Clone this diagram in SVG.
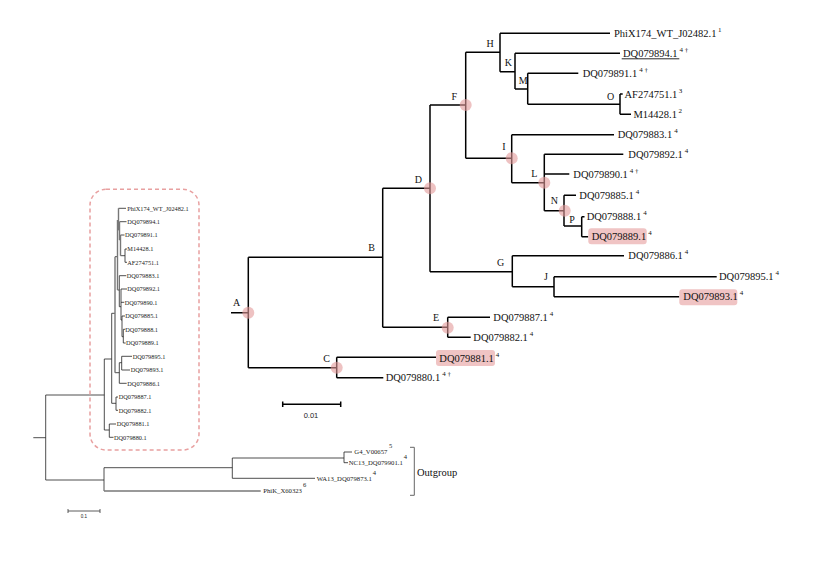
<svg xmlns="http://www.w3.org/2000/svg" width="830" height="575" viewBox="0 0 830 575">
<style>
.b{stroke:#000;stroke-width:1.5;fill:none}
.ib{stroke:#222;stroke-width:0.8;fill:none}
.ig{stroke:#777;stroke-width:1.4;fill:none}
.t{font-family:"Liberation Serif",serif;font-size:10.5px;fill:#111}
.n{font-family:"Liberation Serif",serif;font-size:10px;fill:#111;text-anchor:middle}
.s{font-size:7px}
.it{font-family:"Liberation Serif",serif;font-size:6.3px;fill:#222}
.ot{font-family:"Liberation Serif",serif;font-size:6.7px;fill:#222}
.os{font-size:6.5px}
.c{fill:#e39a9a;fill-opacity:0.6}
.hl{fill:#f0c4c4}
.sans{font-family:"Liberation Sans",sans-serif;fill:#222}
</style>
<rect width="830" height="575" fill="#fff"/>

<!-- Connectors -->
<g id="connectors">
  <path class="b" d="M231,312.7H248.3M248.3,257.3V367.7M248.3,257.3H382.7M248.3,367.7H336.7
  M382.7,188.3V327.3M382.7,188.3H430M382.7,327.3H447.7
  M430,105V271.7M430,105H465.7M430,271.7H512.3
  M465.7,52.3V158.3M465.7,52.3H500M465.7,158.3H511.7
  M500,33.3V71.7M500,33.3H610M500,71.7H515
  M515,53.3V89M515,53.3H620M515,89H527.7
  M527.7,73.3V104.3M527.7,73.3H578.3M527.7,104.3H620
  M620,94V114.3M620,94H622.7M620,114.3H631
  M511.7,134.7V182.7M511.7,134.7H614M511.7,182.7H544.3
  M544.3,154.3V210.7M544.3,154.3H623.3M544.3,174H569.3M544.3,210.7H564
  M564,195.3V226M564,195.3H576M564,226H581.7
  M581.7,216.7V236.7M581.7,216.7H584.5M581.7,236.7H588.3
  M512.3,255.7V286.7M512.3,255.7H624M512.3,286.7H554
  M554,276.7V296.7M554,276.7H716.7M554,296.7H679.3
  M447.7,317.3V337.3M447.7,317.3H490M447.7,337.3H470.7
  M336.7,357.3V377.7M336.7,357.3H436M336.7,377.7H383.3"/>
  <!-- inset tree -->
  <path class="ib" d="M33.3,437.7H45.7M45.7,395V480M45.7,395H104.3M104.3,359V430
  M104.3,430H109.3M109.3,424V437.3M109.3,424H116M109.3,437.3H113.5
  M104.3,359H111.7M111.7,313.3V403.3
  M111.7,403.3H116M116,397V410.3M116,397H118M116,410.3H118
  M111.7,313.3H115
  M115,372.7H119.3M119.3,362.7V383.3M119.3,383.3H126.7
  M119.3,362.7H121.7M121.7,356.3V370M121.7,356.3H132M121.7,370H130
  M115,256.7H117.5
  M118.5,208.3H126M119.5,221.7H126.5M120.5,235H124.5
  M120.5,255.7H125M125,249V262.3M125,249H127M125,262.3H127
  M117.5,290H119.3M119.3,275.7V306.7M119.3,275.7H126.3
  M119.3,306.7H121M121,289V320M121,289H127M121,302.3H124.3
  M121,320H122M122,316V336.7M122,316H125
  M122,336.7H123.3M123.3,329.3V343M123.3,329.3H125.3M123.3,343H125.7
  M45.7,480H104M104,467.7V491M104,467.7H232.3
  M232.3,458V478.3M232.3,458H344M344,452V462.7M344,452H352M344,462.7H348
  M232.3,478.3H315"/>
  <path class="ig" d="M115,256.7V372.7M117.5,220V290M118.5,208.3V230M118.5,230H119.5M119.5,221.7V240M119.5,240H120.5M120.5,235V255.7"/>
  <path class="ig" d="M104,491H260.7"/>
  <!-- outgroup bracket -->
  <path d="M410,447.3H414.3V495.3H410" fill="none" stroke="#666" stroke-width="1"/>
  <!-- scale bars -->
  <path class="b" stroke-width="1.3" d="M282.7,404.3H340.7M282.7,401.5V407M340.7,401.5V407"/>
  <path d="M68,511H100M68,509V513M100,509V513" stroke="#333" stroke-width="0.8" fill="none"/>
</g>

<!-- inset box -->
<rect id="inset-box" x="90" y="189.3" width="109" height="260.7" rx="16" fill="none" stroke="#e8a0a0" stroke-width="1.5" stroke-dasharray="4 3"/>

<!-- internal nodes -->
<g id="node-A"><circle class="c" cx="248.3" cy="312.7" r="6"/><text class="n" x="236.7" y="306">A</text></g>
<g id="node-B"><text class="n" x="371.7" y="251">B</text></g>
<g id="node-C"><circle class="c" cx="336.7" cy="367.7" r="6"/><text class="n" x="326.7" y="361.8">C</text></g>
<g id="node-D"><circle class="c" cx="430" cy="188.3" r="6"/><text class="n" x="418.3" y="182.8">D</text></g>
<g id="node-E"><circle class="c" cx="447.7" cy="327.7" r="6"/><text class="n" x="436" y="320.8">E</text></g>
<g id="node-F"><circle class="c" cx="465.7" cy="105" r="6"/><text class="n" x="454.3" y="99.5">F</text></g>
<g id="node-G"><text class="n" x="500.7" y="265.8">G</text></g>
<g id="node-H"><text class="n" x="490" y="46.8">H</text></g>
<g id="node-I"><circle class="c" cx="511.7" cy="158.3" r="6"/><text class="n" x="504" y="150.2">I</text></g>
<g id="node-J"><text class="n" x="546" y="280.2">J</text></g>
<g id="node-K"><text class="n" x="508.3" y="66.2">K</text></g>
<g id="node-L"><circle class="c" cx="544.3" cy="182.7" r="6"/><text class="n" x="534.3" y="176.8">L</text></g>
<g id="node-M"><text class="n" x="523.3" y="83.5">M</text></g>
<g id="node-N"><circle class="c" cx="564.7" cy="210.7" r="6"/><text class="n" x="554.3" y="204.2">N</text></g>
<g id="node-O"><text class="n" x="610.7" y="100.2">O</text></g>
<g id="node-P"><text class="n" x="572" y="222.5">P</text></g>

<!-- leaves -->
<g id="leaf-PhiX174"><text class="t" x="614" y="36.8">PhiX174_WT_J02482.1<tspan class="s" dx="1.5" dy="-5">1</tspan></text></g>
<g id="leaf-DQ079894"><text class="t" x="623" y="56.8">DQ079894.1<tspan class="s" dx="2" dy="-5">4 †</tspan></text><line x1="621.7" y1="58.8" x2="679.3" y2="58.8" stroke="#111" stroke-width="0.9"/></g>
<g id="leaf-DQ079891"><text class="t" x="582.7" y="76.8">DQ079891.1<tspan class="s" dx="2" dy="-5">4 †</tspan></text></g>
<g id="leaf-AF274751"><text class="t" x="624.5" y="97.5">AF274751.1<tspan class="s" dx="1.5" dy="-5">3</tspan></text></g>
<g id="leaf-M14428"><text class="t" x="633.5" y="117.8">M14428.1<tspan class="s" dx="1.5" dy="-5">2</tspan></text></g>
<g id="leaf-DQ079883"><text class="t" x="617.7" y="138.2">DQ079883.1<tspan class="s" dx="2" dy="-5">4</tspan></text></g>
<g id="leaf-DQ079892"><text class="t" x="628.3" y="157.8">DQ079892.1<tspan class="s" dx="2" dy="-5">4</tspan></text></g>
<g id="leaf-DQ079890"><text class="t" x="573.3" y="177.5">DQ079890.1<tspan class="s" dx="2" dy="-5">4 †</tspan></text></g>
<g id="leaf-DQ079885"><text class="t" x="579.3" y="198.8">DQ079885.1<tspan class="s" dx="2" dy="-5">4</tspan></text></g>
<g id="leaf-DQ079888"><text class="t" x="586.7" y="220.2">DQ079888.1<tspan class="s" dx="2" dy="-5">4</tspan></text></g>
<g id="leaf-DQ079889"><rect class="hl" x="588.3" y="228.3" width="58.4" height="16" rx="3"/><text class="t" x="591.7" y="240.2">DQ079889.1<tspan class="s" dx="2" dy="-5">4</tspan></text></g>
<g id="leaf-DQ079886"><text class="t" x="628.3" y="259.2">DQ079886.1<tspan class="s" dx="2" dy="-5">4</tspan></text></g>
<g id="leaf-DQ079895"><text class="t" x="719" y="280.2">DQ079895.1<tspan class="s" dx="2" dy="-5">4</tspan></text></g>
<g id="leaf-DQ079893"><rect class="hl" x="679.3" y="289.3" width="58" height="16" rx="3"/><text class="t" x="683.3" y="300.2">DQ079893.1<tspan class="s" dx="2" dy="-5">4</tspan></text></g>
<g id="leaf-DQ079887"><text class="t" x="493.3" y="320.8">DQ079887.1<tspan class="s" dx="2" dy="-5">4</tspan></text></g>
<g id="leaf-DQ079882"><text class="t" x="473.3" y="340.8">DQ079882.1<tspan class="s" dx="2" dy="-5">4</tspan></text></g>
<g id="leaf-DQ079881"><rect class="hl" x="436" y="350" width="59" height="16" rx="3"/><text class="t" x="439.3" y="361.5">DQ079881.1<tspan class="s" dx="2" dy="-5">4</tspan></text></g>
<g id="leaf-DQ079880"><text class="t" x="385.7" y="381.2">DQ079880.1<tspan class="s" dx="2" dy="-5">4 †</tspan></text></g>

<g id="scale-main"><text class="sans" x="311" y="417.5" font-size="7.5" text-anchor="middle">0.01</text></g>

<!-- inset labels -->
<g id="inset-labels">
<text class="it" x="127.3" y="210.5">PhiX174_WT_J02482.1</text>
<text class="it" x="127.3" y="223.9">DQ079894.1</text>
<text class="it" x="125" y="237.2">DQ079891.1</text>
<text class="it" x="127.3" y="251.2">M14428.1</text>
<text class="it" x="127.3" y="264.5">AF274751.1</text>
<text class="it" x="126.7" y="277.9">DQ079883.1</text>
<text class="it" x="127.3" y="291.2">DQ079892.1</text>
<text class="it" x="124.7" y="304.5">DQ079890.1</text>
<text class="it" x="125.3" y="318.2">DQ079885.1</text>
<text class="it" x="125.3" y="331.5">DQ079888.1</text>
<text class="it" x="126" y="345.2">DQ079889.1</text>
<text class="it" x="132.7" y="358.5">DQ079895.1</text>
<text class="it" x="130.7" y="372.2">DQ079893.1</text>
<text class="it" x="127.3" y="385.5">DQ079886.1</text>
<text class="it" x="118.7" y="399.2">DQ079887.1</text>
<text class="it" x="118.7" y="412.5">DQ079882.1</text>
<text class="it" x="116.7" y="426.2">DQ079881.1</text>
<text class="it" x="114" y="439.5">DQ079880.1</text>
</g>

<!-- outgroup -->
<g id="outgroup-G4"><text class="ot" x="354.3" y="454.3">G4_V00657<tspan class="os" dx="1.5" dy="-6">5</tspan></text></g>
<g id="outgroup-NC13"><text class="ot" x="348.7" y="465">NC13_DQ079901.1<tspan class="os" dx="1" dy="-6">4</tspan></text></g>
<g id="outgroup-WA13"><text class="ot" x="316.7" y="480.6">WA13_DQ079873.1<tspan class="os" dx="1" dy="-6">4</tspan></text></g>
<g id="outgroup-PhiK"><text class="ot" x="263.3" y="493.3">PhiK_X60323<tspan class="os" dx="1" dy="-6">6</tspan></text></g>
<g id="outgroup-label"><text class="t" x="417" y="476" font-size="8.5">Outgroup</text></g>
<g id="scale-inset"><text class="sans" x="84" y="518" font-size="4.5" text-anchor="middle">0.1</text></g>
</svg>
